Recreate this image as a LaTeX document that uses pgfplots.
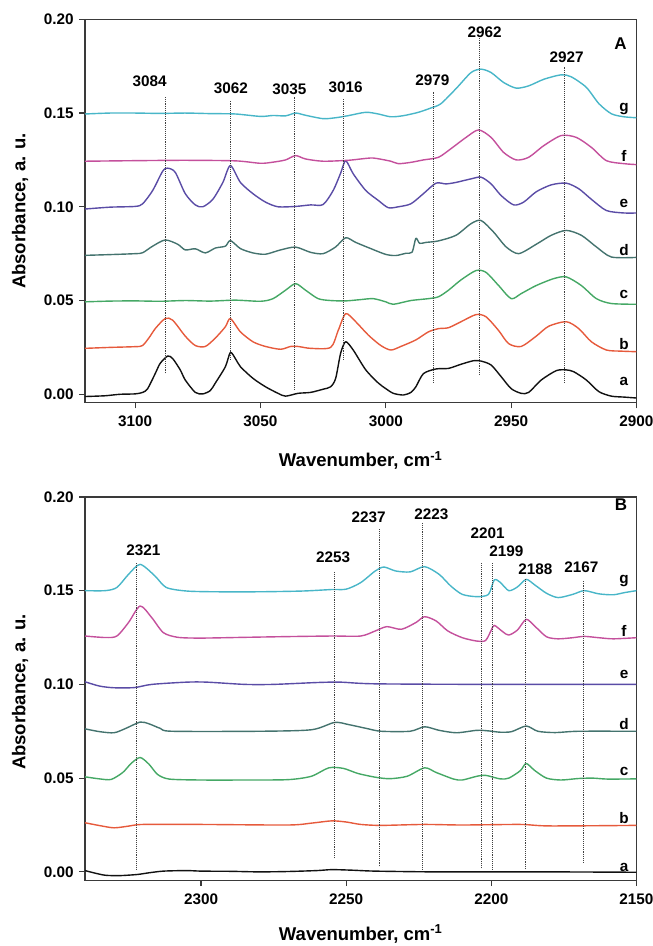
\documentclass[border=0pt]{standalone}
\usepackage{pgfplots}
\pgfplotsset{compat=1.18}
\usepackage{fontspec}
\setmainfont{Liberation Sans}
\definecolor{axcol}{HTML}{3A3A3A}
\definecolor{ca}{HTML}{111111}
\definecolor{cb}{HTML}{E65A3C}
\definecolor{cc}{HTML}{45A865}
\definecolor{cd}{HTML}{44736E}
\definecolor{ce}{HTML}{5A4CA6}
\definecolor{cf}{HTML}{C4509C}
\definecolor{cg}{HTML}{48B6C8}
\newcommand{\tfont}{\fontsize{15.3}{18}\selectfont\bfseries}
\newcommand{\lfont}{\fontsize{18.5}{22}\selectfont\bfseries}
\pgfplotsset{
  spec/.style={
    width=551.5pt, height=383.4pt, scale only axis,
    x dir=reverse,
    ymin=-0.0045, ymax=0.2,
    ytick={0,0.05,0.1,0.15,0.2},
    /pgf/number format/assume math mode=true,
    yticklabel style={/pgf/number format/fixed, /pgf/number format/fixed zerofill, /pgf/number format/precision=2, xshift=-2pt},
    xticklabel style={/pgf/number format/1000 sep={}, yshift=-4pt},
    tick label style={font=\tfont, text=black},
    tick align=outside, major tick length=5.7pt,
    xtick pos=bottom, ytick pos=left,
    axis line style={line width=1.2pt, color=axcol},
    every tick/.style={line width=1.2pt, axcol},
    anchor=south west,
  },
  crv/.style={line width=1.4pt, line join=round, no markers, smooth, tension=0.45},
  dl/.style={densely dotted, line width=0.9pt, black!75, no markers},
}
\begin{document}
\begin{tikzpicture}
%================= Panel A =================
\begin{axis}[spec, at={(85pt,-402.7pt)}, xmin=2900, xmax=3120,
  xtick={2900,2950,3000,3050,3100}]
\addplot[crv, ca] coordinates {(3120,-0.0012)(3112,-0.0008)(3106,0.0)(3100,0.0002)(3097,0.001)(3095,0.003)(3092,0.011)(3090,0.0165)(3087,0.0204)(3085,0.019)(3082,0.013)(3080,0.0076)(3076,0.001)(3073,0.0002)(3070,0.002)(3068,0.006)(3064,0.0147)(3062,0.0223)(3060,0.019)(3058,0.0147)(3053,0.0085)(3048,0.004)(3043,0.0005)(3040,-0.001)(3035,0.0005)(3030,0.001)(3025,0.0027)(3022,0.004)(3020,0.0085)(3018,0.022)(3016,0.028)(3013,0.0236)(3008,0.013)(3003,0.006)(3000,0.003)(2997,0.0005)(2993,-0.0004)(2990,0.001)(2988,0.004)(2985,0.011)(2980,0.0135)(2975,0.0138)(2970,0.016)(2965,0.0179)(2962,0.0177)(2958,0.0156)(2954,0.0094)(2950,0.003)(2946,0.0005)(2943,0.001)(2938,0.0076)(2932,0.0126)(2928,0.013)(2925,0.012)(2920,0.0076)(2915,0.0014)(2910,-0.001)(2905,-0.0015)(2900,-0.002)};
\addplot[crv, cb] coordinates {(3120,0.0245)(3110,0.025)(3100,0.0254)(3097,0.026)(3094,0.031)(3092,0.035)(3088,0.0404)(3085,0.0395)(3080,0.031)(3076,0.026)(3072,0.0255)(3068,0.030)(3064,0.036)(3062,0.0404)(3058,0.0333)(3053,0.028)(3048,0.0255)(3042,0.024)(3038,0.0255)(3035,0.0255)(3030,0.0245)(3022,0.025)(3019,0.034)(3016,0.043)(3012,0.0387)(3007,0.0316)(3002,0.026)(2998,0.0236)(2994,0.0255)(2988,0.029)(2983,0.0333)(2979,0.035)(2975,0.0355)(2970,0.0387)(2964,0.0425)(2960,0.0413)(2955,0.034)(2951,0.027)(2946,0.0255)(2940,0.031)(2935,0.0363)(2928,0.0387)(2923,0.035)(2918,0.028)(2912,0.0236)(2906,0.023)(2900,0.0227)};
\addplot[crv, cc] coordinates {(3120,0.0493)(3110,0.0497)(3100,0.0498)(3090,0.0496)(3080,0.050)(3070,0.0497)(3060,0.0502)(3050,0.0496)(3045,0.051)(3040,0.0555)(3036,0.059)(3032,0.0555)(3027,0.051)(3022,0.050)(3016,0.0498)(3010,0.0505)(3005,0.051)(3000,0.0493)(2997,0.048)(2990,0.050)(2983,0.051)(2979,0.052)(2975,0.0555)(2970,0.061)(2964,0.066)(2960,0.065)(2955,0.058)(2950,0.051)(2946,0.0537)(2940,0.058)(2933,0.0617)(2928,0.0626)(2922,0.058)(2916,0.051)(2910,0.0484)(2900,0.048)};
\addplot[crv, cd] coordinates {(3120,0.0741)(3110,0.0745)(3100,0.075)(3097,0.0755)(3093,0.079)(3088,0.0823)(3083,0.080)(3080,0.077)(3076,0.0776)(3072,0.0754)(3068,0.078)(3064,0.079)(3062,0.082)(3058,0.0777)(3053,0.0754)(3048,0.0747)(3042,0.077)(3036,0.0785)(3030,0.0757)(3025,0.075)(3020,0.0786)(3016,0.0835)(3012,0.081)(3006,0.0777)(3000,0.0746)(2996,0.074)(2992,0.0752)(2989.5,0.0758)(2988,0.0832)(2986.5,0.0805)(2984,0.081)(2979,0.0818)(2972,0.0848)(2966,0.091)(2962,0.0927)(2957,0.0865)(2952,0.0786)(2947,0.075)(2940,0.080)(2934,0.0848)(2928,0.0874)(2922,0.0848)(2916,0.0786)(2910,0.0732)(2900,0.073)};
\addplot[crv, ce] coordinates {(3120,0.0988)(3110,0.0998)(3100,0.1002)(3097,0.1016)(3093,0.1087)(3089,0.119)(3087,0.1206)(3084,0.1184)(3080,0.107)(3076,0.101)(3073,0.100)(3069,0.104)(3065,0.113)(3062,0.122)(3058,0.113)(3053,0.107)(3048,0.1025)(3043,0.100)(3036,0.1002)(3030,0.101)(3025,0.1012)(3021,0.1087)(3018,0.118)(3016,0.1246)(3013,0.1176)(3008,0.1087)(3003,0.1034)(2999,0.0995)(2995,0.100)(2990,0.1016)(2985,0.107)(2980,0.1126)(2976,0.1122)(2972,0.113)(2966,0.1149)(2962,0.1158)(2958,0.1122)(2954,0.106)(2949,0.101)(2945,0.1025)(2940,0.108)(2934,0.1117)(2928,0.1126)(2923,0.1096)(2918,0.104)(2912,0.098)(2905,0.0967)(2900,0.0967)};
\addplot[crv, cf] coordinates {(3120,0.1243)(3100,0.1246)(3080,0.1248)(3060,0.1245)(3050,0.1232)(3045,0.1238)(3040,0.125)(3036,0.1273)(3032,0.1255)(3025,0.1243)(3015,0.1248)(3010,0.1255)(3005,0.126)(2998,0.1243)(2995,0.123)(2990,0.1237)(2985,0.125)(2979,0.1264)(2974,0.131)(2968,0.137)(2963,0.141)(2958,0.137)(2953,0.129)(2948,0.125)(2943,0.1264)(2937,0.1326)(2930,0.138)(2924,0.137)(2918,0.1317)(2912,0.1246)(2905,0.123)(2900,0.1225)};
\addplot[crv, cg] coordinates {(3120,0.1495)(3110,0.150)(3100,0.150)(3090,0.1498)(3080,0.150)(3070,0.1497)(3060,0.1495)(3050,0.1482)(3045,0.1487)(3040,0.1485)(3036,0.150)(3032,0.1488)(3025,0.147)(3020,0.1475)(3015,0.1486)(3008,0.1504)(3003,0.1495)(2998,0.148)(2993,0.1486)(2987,0.1504)(2982,0.1527)(2978,0.155)(2972,0.163)(2966,0.1716)(2962,0.1734)(2958,0.1716)(2953,0.1663)(2948,0.1633)(2943,0.1645)(2937,0.168)(2930,0.1704)(2926,0.1693)(2920,0.1637)(2915,0.155)(2910,0.1496)(2905,0.148)(2900,0.1475)};
% dotted guides
\addplot[dl] coordinates {(3088,0.0112)(3088,0.1587)};
\addplot[dl] coordinates {(3062,0.0183)(3062,0.157)};
\addplot[dl] coordinates {(3036.5,0.0023)(3036.5,0.1587)};
\addplot[dl] coordinates {(3017,0.0183)(3017,0.1573)};
\addplot[dl] coordinates {(2981,0.0062)(2981,0.1614)};
\addplot[dl] coordinates {(2962.7,0.0103)(2962.7,0.19)};
\addplot[dl] coordinates {(2928.7,0.0062)(2928.7,0.1747)};
\begin{scope}[every node/.style={font=\tfont}]
\node at (axis cs:3094.2,0.1667) {3084};
\node at (axis cs:3061.8,0.1632) {3062};
\node at (axis cs:3038.5,0.1627) {3035};
\node at (axis cs:3016,0.1637) {3016};
\node at (axis cs:2981.4,0.1676) {2979};
\node at (axis cs:2960.6,0.193) {2962};
\node at (axis cs:2927.9,0.180) {2927};
\node[font=\fontsize{17}{20}\selectfont\bfseries] at (axis cs:2906.4,0.1868) {A};
\node at (axis cs:2905,0.0067) {a};
\node at (axis cs:2905,0.027) {b};
\node at (axis cs:2905,0.053) {c};
\node at (axis cs:2905,0.077) {d};
\node at (axis cs:2905,0.102) {e};
\node at (axis cs:2905,0.127) {f};
\node at (axis cs:2905,0.152) {g};
\end{scope}
\end{axis}
%================= Panel B =================
\begin{axis}[spec, at={(85pt,-880.3pt)}, xmin=2150, xmax=2340,
  xtick={2150,2200,2250,2300}]
\addplot[crv, ca] coordinates {(2340,0.0007)(2337,-0.0005)(2333,-0.0018)(2328,-0.002)(2322,-0.0014)(2318,-0.0005)(2313,0.0004)(2305,0.0007)(2300,0.0004)(2290,0.0003)(2280,0.0)(2270,0.0002)(2260,0.0007)(2255,0.0012)(2248,0.0009)(2240,0.0004)(2220,0.0)(2200,0.0)(2180,0.0)(2150,-0.0002)};
\addplot[crv, cb] coordinates {(2340,0.0262)(2335,0.0247)(2330,0.0235)(2325,0.0244)(2320,0.0253)(2300,0.0253)(2270,0.025)(2262,0.026)(2255,0.0272)(2250,0.0266)(2245,0.0253)(2238,0.0248)(2223,0.0253)(2210,0.025)(2190,0.0253)(2180,0.0245)(2150,0.0248)};
\addplot[crv, cc] coordinates {(2340,0.0507)(2335,0.0496)(2331,0.0493)(2327,0.053)(2324,0.058)(2321,0.061)(2318,0.0575)(2315,0.052)(2311,0.0495)(2300,0.049)(2285,0.049)(2270,0.0492)(2262,0.051)(2256,0.0555)(2251,0.0552)(2246,0.0525)(2240,0.0505)(2235,0.0497)(2229,0.051)(2223,0.0555)(2219,0.053)(2213,0.0495)(2210,0.049)(2205,0.051)(2202,0.0515)(2197,0.0496)(2194,0.050)(2190,0.054)(2188,0.0578)(2185,0.054)(2181,0.050)(2176,0.049)(2170,0.0498)(2165,0.050)(2160,0.0495)(2150,0.0496)};
\addplot[crv, cd] coordinates {(2340,0.0763)(2335,0.0748)(2330,0.0742)(2326,0.0765)(2321,0.0799)(2318,0.079)(2314,0.0765)(2310,0.075)(2280,0.075)(2262,0.0758)(2254,0.0797)(2249,0.0785)(2243,0.0765)(2238,0.075)(2228,0.075)(2223,0.0774)(2218,0.0755)(2212,0.0742)(2205,0.0755)(2201,0.0752)(2197,0.0745)(2193,0.0748)(2188,0.0778)(2184,0.075)(2178,0.0743)(2170,0.075)(2150,0.075)};
\addplot[crv, ce] coordinates {(2340,0.1014)(2335,0.0991)(2330,0.0982)(2323,0.0983)(2317,0.1)(2305,0.1012)(2298,0.1012)(2285,0.1)(2275,0.1)(2260,0.101)(2252,0.1012)(2240,0.1003)(2200,0.1)(2150,0.1)};
\addplot[crv, cf] coordinates {(2340,0.1258)(2333,0.125)(2329,0.1258)(2325,0.133)(2321,0.1418)(2317,0.1356)(2313,0.1276)(2308,0.1251)(2300,0.1247)(2285,0.1251)(2270,0.1255)(2255,0.1258)(2245,0.1258)(2240,0.1285)(2236,0.1308)(2231,0.1294)(2226,0.133)(2223,0.1361)(2219,0.1338)(2215,0.1285)(2210,0.1249)(2205,0.1231)(2202,0.1234)(2200,0.129)(2199,0.1315)(2196,0.128)(2194,0.1263)(2191,0.129)(2188,0.1347)(2185,0.131)(2181,0.1254)(2177,0.1243)(2172,0.1249)(2168,0.1256)(2163,0.1249)(2158,0.1243)(2150,0.1249)};
\addplot[crv, cg] coordinates {(2340,0.150)(2333,0.150)(2329,0.1517)(2325,0.1587)(2321,0.164)(2316,0.158)(2312,0.1517)(2305,0.1498)(2295,0.1494)(2280,0.1494)(2265,0.1498)(2255,0.1506)(2250,0.1508)(2245,0.1543)(2240,0.1605)(2237,0.1626)(2233,0.1605)(2228,0.160)(2223,0.1628)(2218,0.1587)(2214,0.1525)(2210,0.148)(2205,0.1468)(2201,0.148)(2199,0.1557)(2197,0.1545)(2194,0.150)(2191,0.152)(2188,0.156)(2185,0.153)(2181,0.1486)(2177,0.1463)(2172,0.148)(2168,0.150)(2163,0.1483)(2158,0.1478)(2154,0.149)(2150,0.150)};
% dotted guides
\addplot[dl] coordinates {(2322.3,0.0012)(2322.3,0.1653)};
\addplot[dl] coordinates {(2254,0.0075)(2254,0.1605)};
\addplot[dl] coordinates {(2238.4,0.003)(2238.4,0.1827)};
\addplot[dl] coordinates {(2223.9,0.0012)(2223.9,0.1863)};
\addplot[dl] coordinates {(2203.5,0.0021)(2203.5,0.1645)};
\addplot[dl] coordinates {(2199.6,0.0012)(2199.6,0.1645)};
\addplot[dl] coordinates {(2188.4,0.0015)(2188.4,0.156)};
\addplot[dl] coordinates {(2168.2,0.0048)(2168.2,0.1557)};
\begin{scope}[every node/.style={font=\tfont}]
\node at (axis cs:2319.9,0.1717) {2321};
\node at (axis cs:2254.5,0.1676) {2253};
\node at (axis cs:2242.3,0.189) {2237};
\node at (axis cs:2220.7,0.1907) {2223};
\node at (axis cs:2201.3,0.1804) {2201};
\node at (axis cs:2194.8,0.1712) {2199};
\node at (axis cs:2184.8,0.1614) {2188};
\node at (axis cs:2169,0.1623) {2167};
\node[font=\fontsize{17}{20}\selectfont\bfseries] at (axis cs:2155.3,0.1957) {B};
\node at (axis cs:2154.3,0.0025) {a};
\node at (axis cs:2154.3,0.0288) {b};
\node at (axis cs:2154.3,0.0537) {c};
\node at (axis cs:2154.3,0.079) {d};
\node at (axis cs:2154.3,0.1053) {e};
\node at (axis cs:2154.3,0.1285) {f};
\node at (axis cs:2154.3,0.155) {g};
\end{scope}
\end{axis}
% axis titles
\node[font=\lfont, anchor=base] at (360.7pt,-466.5pt) {Wavenumber, cm\textsuperscript{-1}};
\node[font=\lfont, anchor=base] at (360.7pt,-940pt) {Wavenumber, cm\textsuperscript{-1}};
\node[font=\lfont, rotate=90] at (20pt,-211pt) {Absorbance, a. u.};
\node[font=\lfont, rotate=90] at (20pt,-692pt) {Absorbance, a. u.};
\pgfresetboundingbox
\path (0pt,0pt) rectangle (653pt,-946pt);
\end{tikzpicture}
\end{document}
